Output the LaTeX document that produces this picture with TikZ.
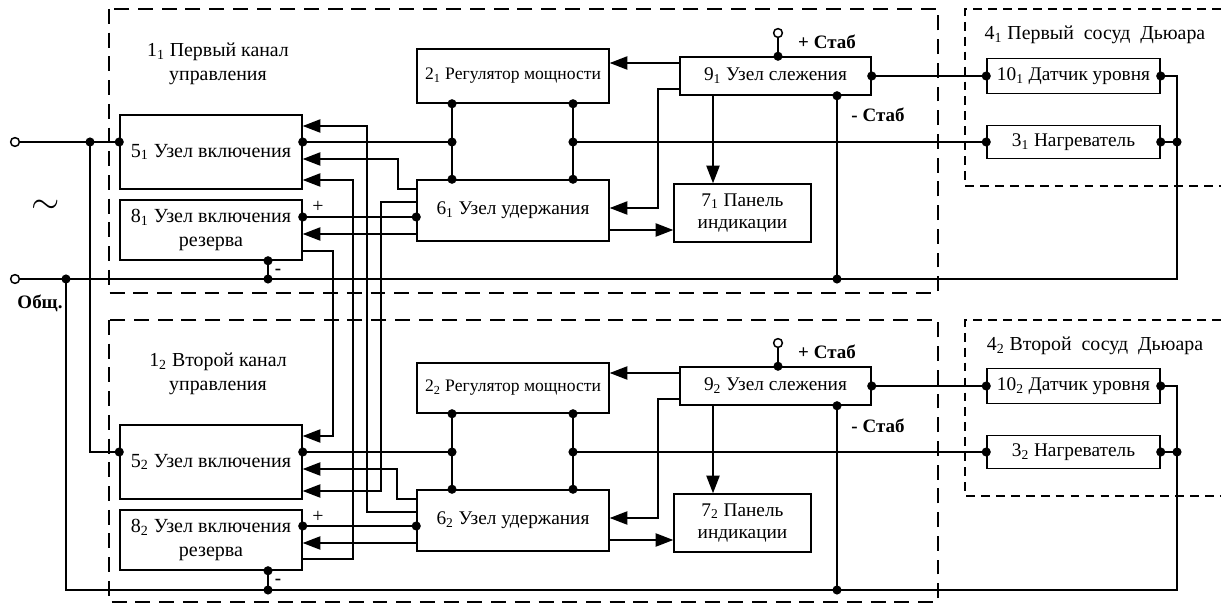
\documentclass[tikz,border=0pt]{standalone}
\usepackage{fontspec}
\setmainfont{Liberation Serif}
\usepackage{tikz}
\usetikzlibrary{
    arrows.meta,
    calc
}

\begin{document}
\begin{tikzpicture}[x=0.02cm, y=-0.02cm, line width=0.85pt,
    blk/.style={draw, inner sep=1pt, align=center, font=\fontsize{11}{13}\selectfont},
    big/.style={font=\fontsize{11.4}{13.5}\selectfont},
    arr/.style={-{Triangle[length=10pt,width=7.5pt]}},
    frame/.style={dash pattern=on 8.5pt off 5pt, line width=0.75pt},
    vessel/.style={dash pattern=on 5pt off 3.5pt, line width=0.75pt},
    lbl/.style={font=\fontsize{11.3}{13.5}\selectfont, align=center},
    stab/.style={font=\fontsize{10.8}{12}\selectfont\bfseries}]

\useasboundingbox (0,0) rectangle (1221,604);

% Frames: control channels and Dewar vessels
\draw[frame] (109,9) rectangle (938,293);
\draw[frame] (109,320) rectangle (938,602);
\draw[vessel] (1221,9) -- (965,9) -- (965,186) -- (1221,186);
\draw[vessel] (1221,320) -- (965,320) -- (965,496) -- (1221,496);

% Blocks, channel 1
\node[blk, big, minimum width=3.64cm, minimum height=1.48cm] (vkl1) at (211,152) {5\textsubscript{1} Узел включения};
\node[blk, big, minimum width=3.64cm, minimum height=1.2cm] (rez1) at (211,230) {8\textsubscript{1} Узел включения\\резерва};
\node[blk, font=\fontsize{10}{12}\selectfont, minimum width=3.84cm, minimum height=1.08cm] (reg1) at (513,76) {2\textsubscript{1} Регулятор мощности};
\node[blk, minimum width=3.84cm, minimum height=1.22cm] (ud1) at (513,210.5) {6\textsubscript{1} Узел удержания};
\node[blk, minimum width=3.82cm, minimum height=0.76cm] (sl1) at (775.5,76) {9\textsubscript{1} Узел слежения};
\node[blk, minimum width=2.74cm, minimum height=1.16cm] (pan1) at (742.5,213) {7\textsubscript{1} Панель\\индикации};
\node[blk, minimum width=3.46cm, minimum height=0.7cm] (dat1) at (1073.5,76) {10\textsubscript{1} Датчик уровня};
\node[blk, minimum width=3.46cm, minimum height=0.66cm] (nag1) at (1073.5,142) {3\textsubscript{1} Нагреватель};

% Blocks, channel 2
\node[blk, big, minimum width=3.64cm, minimum height=1.48cm] (vkl2) at (211,462) {5\textsubscript{2} Узел включения};
\node[blk, big, minimum width=3.64cm, minimum height=1.2cm] (rez2) at (211,540) {8\textsubscript{2} Узел включения\\резерва};
\node[blk, font=\fontsize{10}{12}\selectfont, minimum width=3.84cm, minimum height=1.0cm] (reg2) at (513,388) {2\textsubscript{2} Регулятор мощности};
\node[blk, minimum width=3.84cm, minimum height=1.22cm] (ud2) at (513,520.5) {6\textsubscript{2} Узел удержания};
\node[blk, minimum width=3.82cm, minimum height=0.76cm] (sl2) at (775.5,386) {9\textsubscript{2} Узел слежения};
\node[blk, minimum width=2.74cm, minimum height=1.16cm] (pan2) at (742.5,523) {7\textsubscript{2} Панель\\индикации};
\node[blk, minimum width=3.46cm, minimum height=0.7cm] (dat2) at (1073.5,386) {10\textsubscript{2} Датчик уровня};
\node[blk, minimum width=3.46cm, minimum height=0.66cm] (nag2) at (1073.5,452) {3\textsubscript{2} Нагреватель};

% Texts
\node[lbl] (kan1) at (218,64) {1\textsubscript{1} Первый канал\\управления};
\node[lbl] (kan2) at (218,374) {1\textsubscript{2} Второй канал\\управления};
\node[lbl] (sos1) at (1095,35) {4\textsubscript{1} Первый\ \ сосуд\ \ Дьюара};
\node[lbl] (sos2) at (1095,346) {4\textsubscript{2} Второй\ \ сосуд\ \ Дьюара};
\node[stab] (pst1) at (827,42) {+ Стаб};
\node[stab] (mst1) at (878,115) {- Стаб};
\node[stab] (pst2) at (827,352) {+ Стаб};
\node[stab] (mst2) at (878,426) {- Стаб};
\node (tilde) at (46,207) {\fontsize{22}{22}\selectfont$\sim$};
\node[stab] (obsh) at (40,303) {Общ.};
\node[lbl] (plus1) at (318,207) {+};
\node[stab] (minus1) at (278,272) {-};
\node[lbl] (plus2) at (318,517) {+};
\node[stab] (minus2) at (278,582) {-};

% Mains input and common wire
\coordinate (inA) at (15,142);
\coordinate (inB) at (15,279);
\coordinate (jA) at (90,142);
\coordinate (jB) at (66,279);
\coordinate (rt1) at (1177,279);
\coordinate (rt2) at (1177,590);
\draw (inA) -- (vkl1.west |- inA);
\draw (jA) |- (vkl2.west |- 0,452);
\draw (inB) -- (rt1) |- (dat1.east);
\draw (jB) |- (rt2) |- (dat2.east);
\draw[fill=white] (inA) circle (2.5pt);
\draw[fill=white] (inB) circle (2.5pt);

% Channel 1 wiring
\coordinate (a1) at (452,142);
\coordinate (b1) at (573,142);
\coordinate (m1) at (268,279);
\coordinate (s1) at (837,279);
\coordinate (ps1) at (778,33);
\draw (vkl1.east |- a1) -- (a1);
\draw (b1) -- (nag1.west);
\draw (reg1.south -| a1) -- (ud1.north -| a1);
\draw (reg1.south -| b1) -- (ud1.north -| b1);
\draw (rez1.south -| m1) -- (m1);
\draw (sl1.south -| s1) -- (s1);
\draw (sl1.north -| ps1) -- (ps1);
\draw[fill=white] (ps1) circle (2.5pt);
\draw (sl1.east) -- (dat1.west);
\draw (nag1.east) -- (nag1.east -| rt1);
\draw (rez1.east |- 0,217) -- (ud1.west |- 0,217);
\draw[arr] (sl1.west |- 0,63) -- (reg1.east |- 0,63);
\draw[arr] (sl1.west |- 0,89) -- (658,89) |- (ud1.east |- 0,208);
\draw[arr] (sl1.south -| 713,0) -- (pan1.north -| 713,0);
\draw[arr] (ud1.east |- 0,230) -- (pan1.west |- 0,230);
\draw[arr] (ud1.west |- 0,189) -- (398,189) -- (398,159) -- (vkl1.east |- 0,159);
\draw[arr] (ud1.west |- 0,234) -- (rez1.east |- 0,234);

% Channel 2 wiring
\coordinate (a2) at (452,452);
\coordinate (b2) at (573,452);
\coordinate (m2) at (268,590);
\coordinate (s2) at (837,590);
\coordinate (ps2) at (778,343);
\draw (vkl2.east |- a2) -- (a2);
\draw (b2) -- (nag2.west);
\draw (reg2.south -| a2) -- (ud2.north -| a2);
\draw (reg2.south -| b2) -- (ud2.north -| b2);
\draw (rez2.south -| m2) -- (m2);
\draw (sl2.south -| s2) -- (s2);
\draw (sl2.north -| ps2) -- (ps2);
\draw[fill=white] (ps2) circle (2.5pt);
\draw (sl2.east) -- (dat2.west);
\draw (nag2.east) -- (nag2.east -| rt2);
\draw (rez2.east |- 0,526) -- (ud2.west |- 0,526);
\draw[arr] (sl2.west |- 0,373) -- (reg2.east |- 0,373);
\draw[arr] (sl2.west |- 0,399) -- (658,399) |- (ud2.east |- 0,518);
\draw[arr] (sl2.south -| 713,0) -- (pan2.north -| 713,0);
\draw[arr] (ud2.east |- 0,540) -- (pan2.west |- 0,540);
\draw[arr] (ud2.west |- 0,499) -- (397,499) -- (397,469) -- (vkl2.east |- 0,469);
\draw[arr] (ud2.west |- 0,543) -- (rez2.east |- 0,543);

% Cross links between the channels
\draw[arr] (rez1.east |- 0,251) -- (333,251) -- (333,436) -- (vkl2.east |- 0,436);
\draw[arr] (ud1.west |- 0,202) -- (381,202) -- (381,491) -- (vkl2.east |- 0,491);
\draw[arr] (ud2.west |- 0,512) -- (367,512) -- (367,126) -- (vkl1.east |- 0,126);
\draw[arr] (rez2.east |- 0,559) -- (353,559) -- (353,180) -- (vkl1.east |- 0,180);

% Junction dots
\fill (jA) circle (2.6pt) (vkl1.west |- inA) circle (2.6pt) (jB) circle (2.6pt)
      (vkl2.west |- 0,452) circle (2.6pt);
\fill (vkl1.east |- a1) circle (2.6pt) (a1) circle (2.6pt) (b1) circle (2.6pt)
      (reg1.south -| a1) circle (2.6pt) (reg1.south -| b1) circle (2.6pt)
      (ud1.north -| a1) circle (2.6pt) (ud1.north -| b1) circle (2.6pt)
      (m1) circle (2.6pt) (rez1.south -| m1) circle (2.6pt)
      (s1) circle (2.6pt) (sl1.south -| s1) circle (2.6pt) (sl1.north -| ps1) circle (2.6pt)
      (sl1.east) circle (2.6pt) (dat1.west) circle (2.6pt) (dat1.east) circle (2.6pt)
      (nag1.west) circle (2.6pt) (nag1.east) circle (2.6pt) (nag1.east -| rt1) circle (2.6pt)
      (rez1.east |- 0,217) circle (2.6pt) (ud1.west |- 0,217) circle (2.6pt);
\fill (vkl2.east |- a2) circle (2.6pt) (a2) circle (2.6pt) (b2) circle (2.6pt)
      (reg2.south -| a2) circle (2.6pt) (reg2.south -| b2) circle (2.6pt)
      (ud2.north -| a2) circle (2.6pt) (ud2.north -| b2) circle (2.6pt)
      (m2) circle (2.6pt) (rez2.south -| m2) circle (2.6pt)
      (s2) circle (2.6pt) (sl2.south -| s2) circle (2.6pt) (sl2.north -| ps2) circle (2.6pt)
      (sl2.east) circle (2.6pt) (dat2.west) circle (2.6pt) (dat2.east) circle (2.6pt)
      (nag2.west) circle (2.6pt) (nag2.east) circle (2.6pt) (nag2.east -| rt2) circle (2.6pt)
      (rez2.east |- 0,526) circle (2.6pt) (ud2.west |- 0,526) circle (2.6pt);

\end{tikzpicture}
\end{document}
